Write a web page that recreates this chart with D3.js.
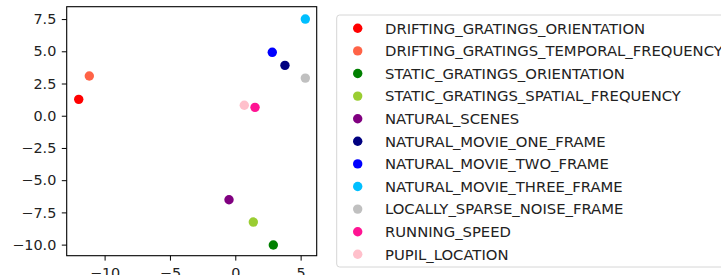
<!DOCTYPE html>
<html>
<head>
<meta charset="utf-8">
<script src="https://cdn.jsdelivr.net/npm/d3@7"></script>
<style>
  body { margin: 0; background: #fff; }
  text { font-family: "DejaVu Sans", sans-serif; font-size: 14.4px; fill: #222; }
  .legend text { font-size: 14.8px; }
</style>
</head>
<body>
<div id="chart"></div>
<script>
var width = 721,
    height = 275;

// data
var names = ["DRIFTING_GRATINGS_ORIENTATION", "DRIFTING_GRATINGS_TEMPORAL_FREQUENCY",
  "STATIC_GRATINGS_ORIENTATION", "STATIC_GRATINGS_SPATIAL_FREQUENCY", "NATURAL_SCENES",
  "NATURAL_MOVIE_ONE_FRAME", "NATURAL_MOVIE_TWO_FRAME", "NATURAL_MOVIE_THREE_FRAME",
  "LOCALLY_SPARSE_NOISE_FRAME", "RUNNING_SPEED", "PUPIL_LOCATION"];
var colors = ["red", "tomato", "green", "yellowgreen", "purple", "navy", "blue",
  "deepskyblue", "silver", "deeppink", "pink"];
var xs = [-11.98, -11.17, 2.91, 1.38, -0.48, 3.80, 2.83, 5.36, 5.36, 1.51, 0.69];
var ys = [1.27, 3.08, -10.03, -8.25, -6.52, 3.91, 4.92, 7.50, 2.92, 0.65, 0.81];
var xTicks = [-10, -5, 0, 5];
var yTicks = [-10, -7.5, -5, -2.5, 0, 2.5, 5, 7.5];

var plotLeft = 66.7, plotRight = 316.7, plotTop = 6.7, plotBottom = 255.7;

var x = d3.scaleLinear().domain([-12.9, 6.23]).range([plotLeft, plotRight]);
var y = d3.scaleLinear().domain([-10.86, 8.46]).range([plotBottom, plotTop]);

var svg = d3.select("#chart").append("svg")
    .attr("width", width)
    .attr("height", height);

var fmt = function(d) { return d3.format(".1f")(d).replace("-", "\u2212"); };

// y axis
var yAxis = svg.append("g").attr("transform", "translate(" + plotLeft + ",0)")
  .call(d3.axisLeft(y).tickValues(yTicks).tickSize(4.9).tickPadding(5.5).tickFormat(fmt));
yAxis.select(".domain").remove();
yAxis.selectAll("text").attr("font-size", null).attr("font-family", null);

// x axis (labels are cut by the bottom edge, as in the original)
var xAxis = svg.append("g").attr("transform", "translate(0," + plotBottom + ")")
  .call(d3.axisBottom(x).tickValues(xTicks).tickSize(4.9).tickPadding(4)
    .tickFormat(function(d) { return String(d).replace("-", "\u2212"); }));
xAxis.select(".domain").remove();
xAxis.selectAll("text").attr("font-size", null).attr("font-family", null)
  .attr("dy", null).attr("y", 22.3);

svg.selectAll(".tick line").attr("stroke", "#000").attr("stroke-width", 1);

// frame
svg.append("rect")
  .attr("x", plotLeft).attr("y", plotTop)
  .attr("width", plotRight - plotLeft).attr("height", plotBottom - plotTop)
  .attr("fill", "none").attr("stroke", "#000").attr("stroke-width", 1.1);

svg.selectAll(".pt")
  .data(names)
  .enter().append("circle")
  .attr("class", "pt")
  .attr("cx", function(d, i) { return x(xs[i]); })
  .attr("cy", function(d, i) { return y(ys[i]); })
  .attr("r", 4.7)
  .attr("fill", function(d, i) { return colors[i]; });

// legend
var legend = svg.append("g").attr("class", "legend");
legend.append("rect")
  .attr("x", 336.7).attr("y", 15)
  .attr("width", 420).attr("height", 252)
  .attr("rx", 3)
  .attr("fill", "#fff").attr("fill-opacity", 0.8)
  .attr("stroke", "#d6d6d6").attr("stroke-width", 1);

var row = legend.selectAll(".row")
  .data(names)
  .enter().append("g")
  .attr("transform", function(d, i) { return "translate(0," + (28.3 + i * 22.6) + ")"; });

row.append("circle")
  .attr("cx", 357.7).attr("cy", 0).attr("r", 4.7)
  .attr("fill", function(d, i) { return colors[i]; });

row.append("text")
  .attr("x", 385).attr("dy", "0.36em")
  .text(function(d) { return d; });
</script>
</body>
</html>
